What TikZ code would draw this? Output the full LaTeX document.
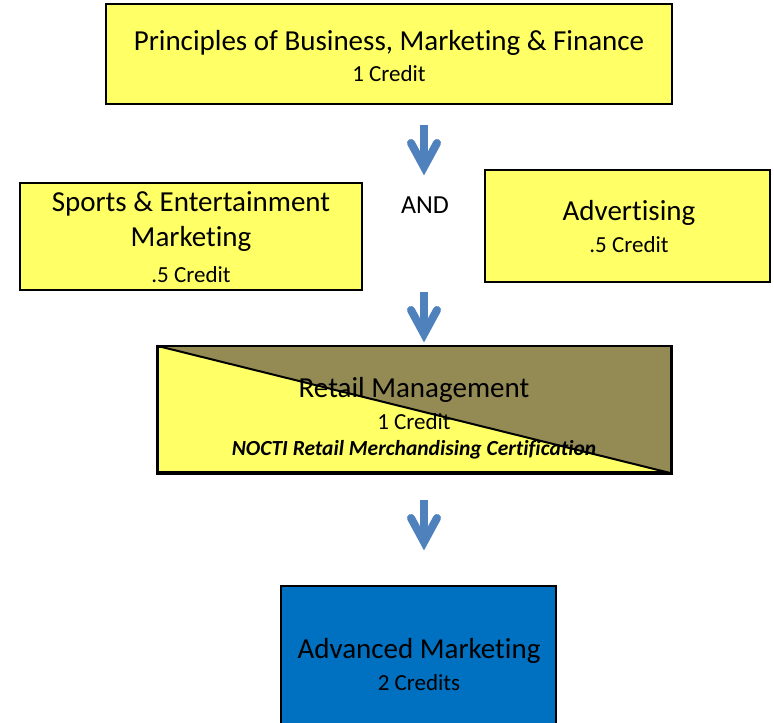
\documentclass[tikz,border=0pt]{standalone}
\usepackage{fontspec}
\setmainfont[Ligatures=NoCommon]{Carlito}
\definecolor{boxyellow}{HTML}{FFFF66}
\definecolor{olivebox}{HTML}{948A54}
\definecolor{advblue}{HTML}{0070C0}
\definecolor{arrowblue}{HTML}{4F81BD}
\tikzset{
  box/.style={draw=black, line width=2.5pt, fill=boxyellow, inner sep=0pt},
  big/.style={font=\fontsize{29}{33}\selectfont, inner sep=0pt, anchor=center},
  small/.style={font=\fontsize{23}{27}\selectfont, inner sep=0pt, anchor=center},
  shaft/.style={draw=arrowblue, line width=8pt},
  chev/.style={draw=arrowblue, line width=8pt, line cap=round, line join=miter}
}
\newcommand\flowarrow[1]{%
  \draw[shaft] (#1) -- ++(0,42);
  \draw[chev] ($(#1)+(-13,18)$) -- ($(#1)+(0,42)$) -- ($(#1)+(13,18)$);
}
\usetikzlibrary{calc}
\begin{document}
\begin{tikzpicture}[x=1pt,y=-1pt]
\useasboundingbox (0,0) rectangle (774,723);
% top box
\node[box, minimum width=566pt, minimum height=100pt] (pbmf) at (389,54) {};
\node[big] (pbmft) at (389,43) {Principles of Business, Marketing \& Finance};
\node[small] (pbmfc) at (389,74) {1 Credit};
% arrow 1
\coordinate (a1) at (424,125);
\flowarrow{a1}
% sports box
\node[box, minimum width=342pt, minimum height=107pt] (sem) at (191,236.5) {};
\node[big] (semt1) at (191,204) {Sports \& Entertainment};
\node[big] (semt2) at (191,239) {Marketing};
\node[small] (semc) at (191,275) {.5 Credit};
% AND
\node[small, font=\fontsize{26}{30}\selectfont] (and) at (425,205) {AND};
% advertising box
\node[box, minimum width=285pt, minimum height=112pt] (adv) at (627.5,226) {};
\node[big] (advt) at (629,213) {Advertising};
\node[small] (advc) at (629,245) {.5 Credit};
% arrow 2
\coordinate (a2) at (424,292);
\flowarrow{a2}
% retail box
\node[box, minimum width=512pt, minimum height=125pt] (ret) at (414,409.5) {};
\fill[olivebox] (ret.north west) -- (ret.north east) -- (ret.south east) -- cycle;
\draw[line width=2pt] (ret.north west) -- (ret.south east);
\draw[line width=2.5pt] (ret.north west) rectangle (ret.south east);
\node[big] (rett) at (414,390) {Retail Management};
\node[small] (retc) at (414,422) {1 Credit};
\node[small, font=\fontsize{21.5}{25}\selectfont\bfseries\itshape] (retn) at (414,450) {NOCTI Retail Merchandising Certification};
% arrow 3
\coordinate (a3) at (424,500);
\flowarrow{a3}
% advanced box
\node[box, fill=advblue, minimum width=275pt, minimum height=150pt] (am) at (418.5,661) {};
\node[big] (amt) at (419,651) {Advanced Marketing};
\node[small] (amc) at (419,683) {2 Credits};
\end{tikzpicture}
\end{document}
